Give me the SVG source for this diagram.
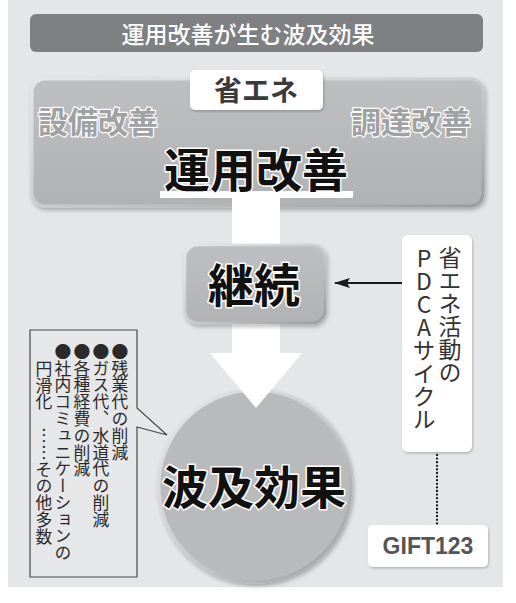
<svg xmlns="http://www.w3.org/2000/svg" width="516" height="603" viewBox="0 0 516 603">
<defs>
  <filter id="sh" x="-10%" y="-10%" width="125%" height="130%">
    <feDropShadow dx="1.5" dy="2.5" stdDeviation="2" flood-color="#000" flood-opacity="0.28"/>
  </filter>
  <filter id="sh2" x="-10%" y="-10%" width="130%" height="130%">
    <feDropShadow dx="1" dy="1.5" stdDeviation="1.2" flood-color="#000" flood-opacity="0.22"/>
  </filter>
  <linearGradient id="boxg" x1="0" y1="0" x2="0" y2="1">
    <stop offset="0" stop-color="#bebfc1"/>
    <stop offset="1" stop-color="#b1b2b4"/>
  </linearGradient>
  <linearGradient id="rim" x1="0" y1="0" x2="1" y2="1">
    <stop offset="0" stop-color="#e6e7e9"/>
    <stop offset="0.5" stop-color="#cbcccd"/>
    <stop offset="1" stop-color="#9a9b9d"/>
  </linearGradient>
  <marker id="ah" viewBox="0 0 16 12" refX="15" refY="6" markerWidth="16" markerHeight="12" markerUnits="userSpaceOnUse" orient="auto">
    <path d="M0,1 L16,6 L0,11 L3,6 Z" fill="#1a1a1a"/>
  </marker>
  <style>
    .jp { font-family: "Noto Sans CJK JP", "Noto Sans", sans-serif; }
    .big { font-weight: 700; fill: #111; stroke: #fff; stroke-width: 3; paint-order: stroke; stroke-linejoin: round; text-anchor: middle; }
    .side { font-weight: 700; fill: #a0a1a3; stroke: #fff; stroke-width: 2.4; paint-order: stroke; stroke-linejoin: round; text-anchor: middle; font-size: 30px; }
    .vert { writing-mode: vertical-rl; text-orientation: upright; }
    .note { font-size: 16.8px; fill: #2a2a2a; }
    .pdca { font-size: 23px; fill: #333; font-weight: 400; }
  </style>
</defs>

<rect x="0" y="0" width="516" height="603" fill="#ffffff"/>
<rect x="8" y="0" width="495" height="587" fill="#e5e6e8"/>

<g id="title">
  <rect x="30" y="14" width="453" height="38" rx="6" fill="#7f8083"/>
  <text x="248" y="43" class="jp" font-size="23" font-weight="500" fill="#ffffff" text-anchor="middle">運用改善が生む波及効果</text>
</g>

<g id="node-top">
  <rect x="32" y="79" width="451" height="127" rx="13" fill="url(#boxg)" stroke="url(#rim)" stroke-width="3" filter="url(#sh)"/>
  <text x="98" y="133" class="jp side">設備改善</text>
  <text x="411" y="133" class="jp side">調達改善</text>
</g>

<g id="node-shoene">
  <rect x="190" y="70" width="133" height="40" rx="5" fill="#ffffff" filter="url(#sh2)"/>
  <text x="256" y="101" class="jp" font-size="28" font-weight="700" fill="#3a3a3a" text-anchor="middle">省エネ</text>
</g>

<g id="connectors">
  <rect x="160" y="191" width="193" height="7" fill="#ffffff"/>
  <rect x="232" y="192" width="48" height="162" fill="#ffffff"/>
  <line x1="402" y1="283" x2="335" y2="283" stroke="#1a1a1a" stroke-width="2.2" marker-end="url(#ah)"/>
  <line x1="437" y1="455" x2="437" y2="524" stroke="#111" stroke-width="2.3" stroke-dasharray="0 3.6" stroke-linecap="round"/>
</g>

<g id="node-unyou">
  <text x="256" y="187" class="jp big" font-size="46">運用改善</text>
</g>

<g id="node-keizoku">
  <rect x="185" y="245" width="140" height="78" rx="13" fill="url(#boxg)" stroke="url(#rim)" stroke-width="2.5" filter="url(#sh)"/>
  <text x="254" y="302" class="jp big" font-size="46">継続</text>
</g>

<g id="node-hakyu">
  <circle cx="255" cy="486" r="96" fill="#b9babc" stroke="url(#rim)" stroke-width="3" filter="url(#sh)"/>
  <path d="M210,353 L302,353 L256,408 Z" fill="#ffffff"/>
  <text x="254" y="504" class="jp big" font-size="46">波及効果</text>
</g>

<g id="node-pdca">
  <rect x="402" y="235" width="70" height="217" rx="6" fill="#ffffff" filter="url(#sh2)"/>
  <text x="450" y="246" class="jp pdca vert">省エネ活動の</text>
  <text x="424" y="247" class="jp pdca vert">PDCAサイクル</text>
</g>

<g id="node-gift">
  <rect x="368" y="525" width="120" height="42" rx="5" fill="#ffffff" filter="url(#sh2)"/>
  <text x="428" y="554" font-family="Liberation Sans, Arial, sans-serif" font-size="23" font-weight="700" fill="#555" text-anchor="middle">GIFT123</text>
</g>

<g id="node-callout">
  <path d="M30,330 H137 V408 L167,435 L137,427 V577 H30 Z" fill="#e6e7e9" stroke="#4a4a4a" stroke-width="1.2"/>
  <text x="120" y="343" class="jp note vert">●残業代の削減</text>
  <text x="101" y="343" class="jp note vert">●ガス代、水道代の削減</text>
  <text x="82" y="343" class="jp note vert">●各種経費の削減</text>
  <text x="63" y="343" class="jp note vert">●社内コミュニケーションの</text>
  <text x="44" y="360" class="jp note vert">円滑化　……その他多数</text>
</g>
</svg>
